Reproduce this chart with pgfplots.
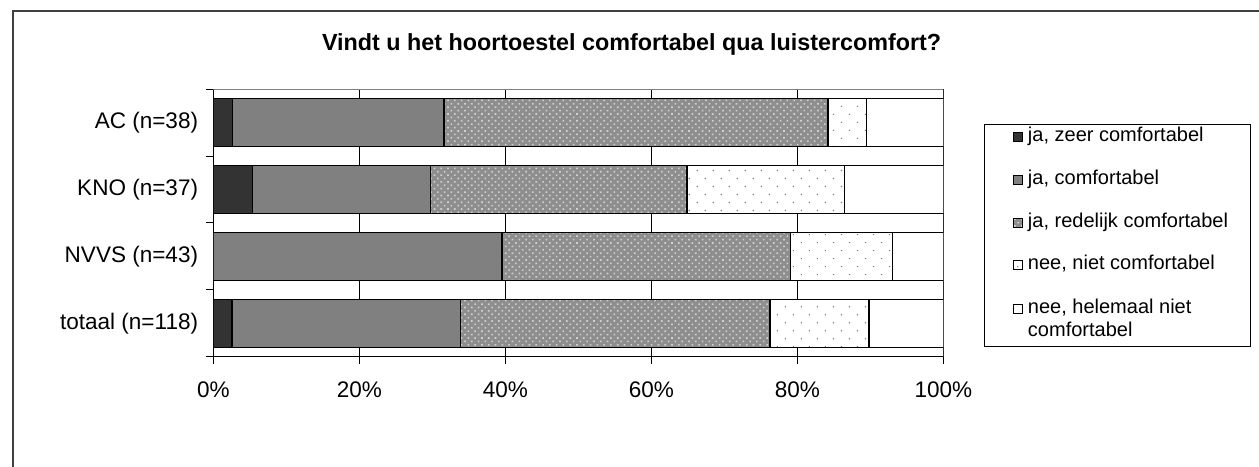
\documentclass[border=0pt]{standalone}
\usepackage{fontspec}
\setmainfont{Liberation Sans}
\usepackage{pgfplots}
\pgfplotsset{compat=1.18}
\usetikzlibrary{patterns.meta}
\definecolor{dark}{HTML}{333333}
\definecolor{mid}{HTML}{808080}
\definecolor{hatchbg}{HTML}{8E8E8E}
\definecolor{hatchfg}{HTML}{D0D0D0}
\definecolor{dotc}{HTML}{7A7A7A}
\definecolor{framec}{HTML}{404040}
\tikzset{
  redel/.style={fill=hatchbg, postaction={pattern={Dots[distance=3.6pt, radius=0.85pt, angle=45]}, pattern color=hatchfg}},
  nietc/.style={fill=white, postaction={pattern={Dots[distance=8.5pt, radius=0.6pt, angle=45]}, pattern color=dotc}},
}
\pgfplotsset{
  sq legend/.style={legend image code/.code={\path (0pt,0pt); \draw[##1, line width=0.6pt] (6pt,0pt) rectangle (12.75pt,6.75pt);}},
}
\begin{document}
\begin{tikzpicture}
\path[use as bounding box] (0pt,0pt) rectangle (944.25pt,350.25pt);
\draw[framec, line width=1.5pt] (9.75pt,-2pt) -- (9.75pt,342pt) -- (950pt,342pt);
\begin{axis}[
  at={(160pt,82.5pt)}, anchor=south west,
  scale only axis, width=547.5pt, height=201pt,
  xbar stacked, bar width=0.71,
  xmin=0, xmax=100, ymin=-0.5, ymax=3.5,
  enlargelimits=false,
  axis x line*=bottom, axis y line*=left,
  axis line style={black, line width=0.75pt},
  tick align=outside,
  major tick length=0pt, minor tick length=5.25pt,
  tick style={black, line width=0.75pt},
  xtick={0,20,...,100}, minor xtick={0,20,40,60,80,100},
  ytick={0,1,2,3}, minor ytick={-0.5,0.5,1.5,2.5,3.5},
  yticklabels={totaal (n=118),NVVS (n=43),KNO (n=37),AC (n=38)},
  xticklabel={\pgfmathprintnumber{\tick}\%},
  /pgf/number format/assume math mode=true,
  ticklabel style={font=\fontsize{16.9}{20}\selectfont},
  xticklabel style={yshift=-15pt},
  yticklabel style={xshift=-7.9pt},
  xmajorgrids=true, ymajorgrids=false,
  major grid style={black, line width=0.75pt},
  title={Vindt u het hoortoestel comfortabel qua luistercomfort?},
  title style={at={(axis description cs:0.573,1.138)}, anchor=center, font=\fontsize{17.5}{21}\selectfont\bfseries},
  legend style={at={(axis description cs:1.0558,0.869)}, anchor=north west,
    draw=black, line width=0.75pt, inner xsep=15pt, inner ysep=0pt,
    row sep=15.6pt, column sep=2pt,
    font=\fontsize{15}{17.25}\selectfont, cells={anchor=base west}},
]
\addplot[draw=black, line width=1pt, fill=dark, sq legend] coordinates {(2.54,0) (0,1) (5.41,2) (2.63,3)};
\addlegendentry{ja, zeer comfortabel}
\addplot[draw=black, line width=1pt, fill=mid, sq legend] coordinates {(31.36,0) (39.53,1) (24.32,2) (28.95,3)};
\addlegendentry{ja, comfortabel}
\addplot[draw=black, line width=1pt, redel, sq legend] coordinates {(42.37,0) (39.53,1) (35.14,2) (52.63,3)};
\addlegendentry{ja, redelijk comfortabel}
\addplot[draw=black, line width=1pt, nietc, sq legend] coordinates {(13.56,0) (13.95,1) (21.62,2) (5.26,3)};
\addlegendentry{nee, niet comfortabel}
\addplot[draw=black, line width=1pt, fill=white, sq legend] coordinates {(10.17,0) (6.98,1) (13.51,2) (10.53,3)};
\addlegendentry[text depth={}]{\begin{tabular}[t]{@{}l@{}}nee, helemaal niet\\comfortabel\end{tabular}}
\draw[mid, line width=0.75pt] (rel axis cs:0,1) -- (rel axis cs:1,1) -- (rel axis cs:1,0);
\end{axis}
\end{tikzpicture}
\end{document}
